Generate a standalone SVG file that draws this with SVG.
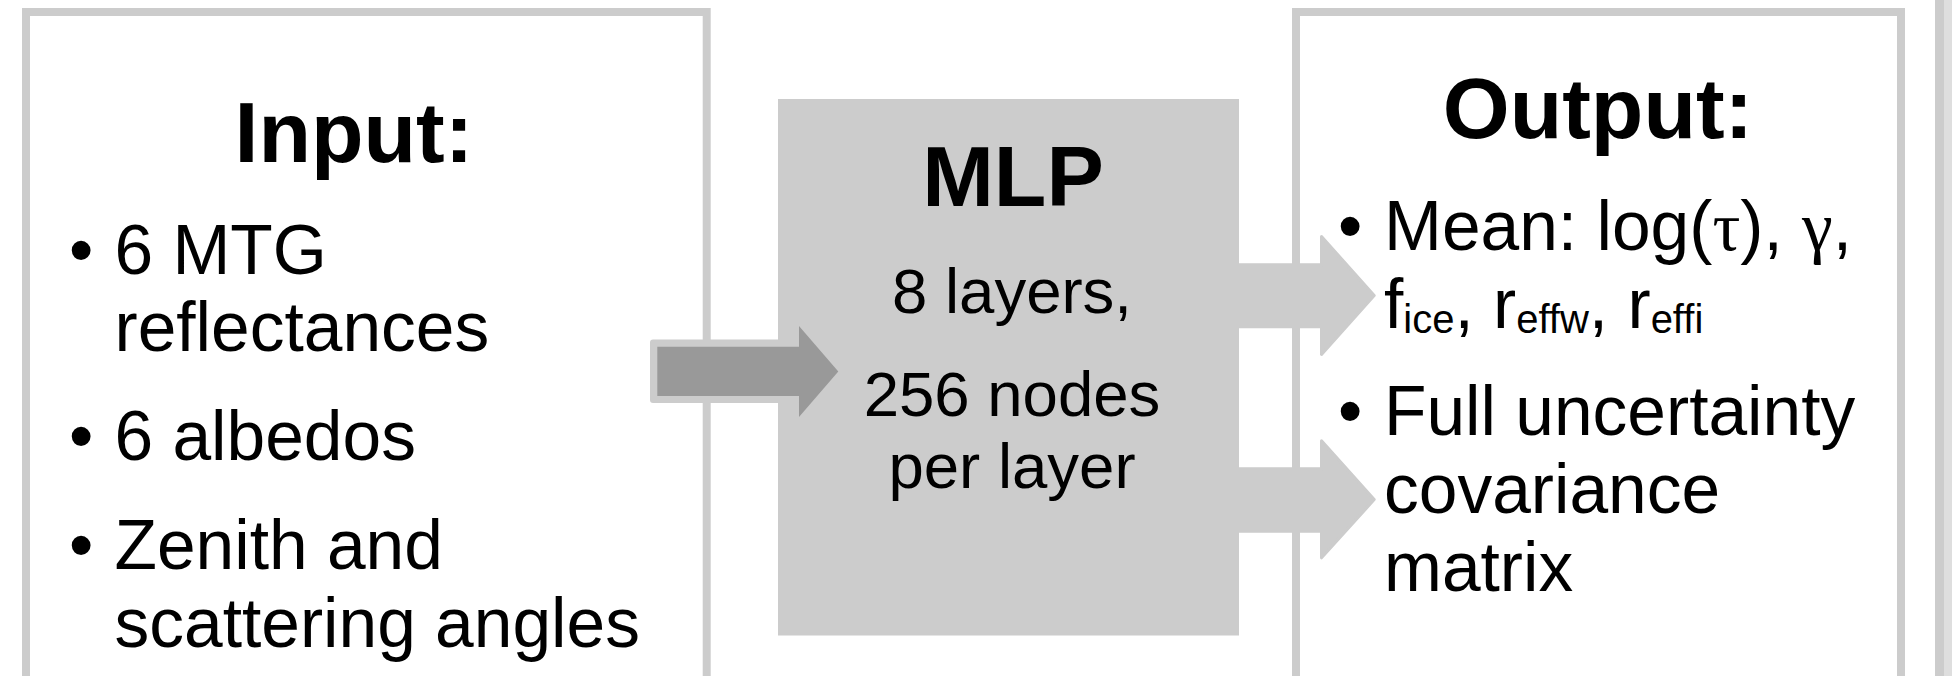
<svg xmlns="http://www.w3.org/2000/svg" width="1952" height="676" viewBox="0 0 1952 676">
  <style>
    .frame { fill: #ffffff; stroke: #cccccc; stroke-width: 8; }
    .head { font-family: "Liberation Sans", Arial, sans-serif; font-weight: bold; font-size: 86px; fill: #000000; }
    .body { font-family: "Liberation Sans", Arial, sans-serif; font-size: 69.5px; fill: #000000; }
    .mid { font-family: "Liberation Sans", Arial, sans-serif; font-size: 63.5px; fill: #000000; text-anchor: middle; }
    .greek { font-family: "Liberation Serif", "Times New Roman", serif; }
    .sub { font-size: 40px; }
    .flow-out { fill: #cccccc; stroke: #cccccc; stroke-width: 3; stroke-linejoin: round; }
  </style>

  <rect x="0" y="0" width="1952" height="676" fill="#ffffff"/>

  <!-- edge of the neighbouring panel -->
  <rect x="1935" y="0" width="9" height="676" fill="#cccccc"/>
  <rect x="1944" y="0" width="8" height="676" fill="#dedede"/>

  <g id="input">
    <rect class="frame" x="26" y="12" width="680.7" height="720"/>
    <text class="head" x="354" y="161.6" text-anchor="middle">Input:</text>
    <text class="body" x="69" y="273.7">•</text>
    <text class="body" x="114.5" y="273.7">6 MTG</text>
    <text class="body" x="114.5" y="351.3">reflectances</text>
    <text class="body" x="69" y="460.3">•</text>
    <text class="body" x="114.5" y="460.3">6 albedos</text>
    <text class="body" x="69" y="569">•</text>
    <text class="body" x="114.5" y="569">Zenith and</text>
    <text class="body" x="114.5" y="646.5">scattering angles</text>
  </g>

  <g id="output">
    <rect class="frame" x="1296" y="12" width="605" height="720"/>
    <text class="head" x="1598" y="138" text-anchor="middle">Output:</text>
    <text class="body" x="1338" y="250">•</text>
    <text class="body" x="1384" y="250">Mean: log(<tspan class="greek">τ</tspan>), <tspan class="greek">γ</tspan>,</text>
    <text class="body" x="1384" y="327.6">f<tspan class="sub" dy="5">ice</tspan><tspan dy="-5">, r</tspan><tspan class="sub" dy="5">effw</tspan><tspan dy="-5">, r</tspan><tspan class="sub" dy="5">effi</tspan></text>
    <text class="body" x="1338" y="435.3">•</text>
    <text class="body" x="1384" y="435.3">Full uncertainty</text>
    <text class="body" x="1384" y="513">covariance</text>
    <text class="body" x="1384" y="590.5">matrix</text>
  </g>

  <g id="mlp">
    <rect x="778" y="99" width="461" height="536.5" fill="#cccccc"/>
    <text class="head" x="1013" y="206" text-anchor="middle">MLP</text>
    <text class="mid" x="1012" y="312.6">8 layers,</text>
    <text class="mid" x="1012" y="416.4">256 nodes</text>
    <text class="mid" x="1012" y="487.5">per layer</text>
  </g>

  <g id="connectors">
    <!-- input → MLP -->
    <rect x="650" y="339.5" width="150" height="63.5" rx="3" fill="#cccccc"/>
    <path d="M657.3 346.7 H799 V326 L838.3 371.5 L799 417 V396 H657.3 Z" fill="#999999"/>
    <!-- MLP → mean -->
    <path class="flow-out" d="M1239 264.8 H1321.5 V236.5 L1374.2 295.5 L1321.5 354.5 V326.8 H1239 Z"/>
    <!-- MLP → covariance -->
    <path class="flow-out" d="M1239 468.8 H1321.5 V440.8 L1374.2 499.6 L1321.5 557.8 V531.2 H1239 Z"/>
  </g>
</svg>
